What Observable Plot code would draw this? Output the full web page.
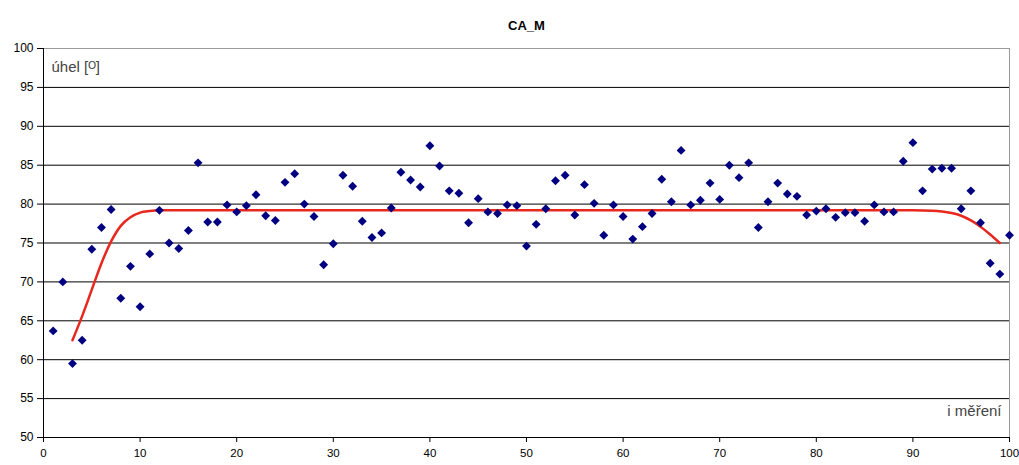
<!DOCTYPE html>
<html>
<head>
<meta charset="utf-8">
<script src="https://cdn.jsdelivr.net/npm/d3@7"></script>
<script src="https://cdn.jsdelivr.net/npm/@observablehq/plot@0.6"></script>
<style>
  body { margin: 0; background: #fff; }
  svg { font-family: "Liberation Sans", Arial, sans-serif; }
</style>
</head>
<body>
<div id="chart"></div>
<script>
const title = "CA_M";
const yLabel = "úhel [ᴼ]";
const xLabel = "i měření";
const xTicks = [0, 10, 20, 30, 40, 50, 60, 70, 80, 90, 100];
const yTicks = [50, 55, 60, 65, 70, 75, 80, 85, 90, 95, 100];

const measIndex = d3.range(1, 101);
const measValues = [
  63.7, 70.0, 59.5, 62.5, 74.2, 77.0, 79.3, 67.9, 72.0, 66.8,
  73.6, 79.2, 75.0, 74.3, 76.6, 85.3, 77.7, 77.7, 79.9, 79.0,
  79.8, 81.2, 78.5, 77.9, 82.8, 83.9, 80.0, 78.4, 72.2, 74.9,
  83.7, 82.3, 77.8, 75.7, 76.3, 79.5, 84.1, 83.1, 82.2, 87.5,
  84.9, 81.7, 81.4, 77.6, 80.7, 79.0, 78.8, 79.9, 79.8, 74.6,
  77.4, 79.4, 83.0, 83.7, 78.6, 82.5, 80.1, 76.0, 79.9, 78.4,
  75.5, 77.1, 78.8, 83.2, 80.3, 86.9, 79.9, 80.5, 82.7, 80.6,
  85.0, 83.4, 85.3, 77.0, 80.3, 82.7, 81.3, 81.0, 78.6, 79.1,
  79.4, 78.3, 78.9, 78.9, 77.8, 79.9, 79.0, 79.0, 85.5, 87.9,
  81.7, 84.5, 84.6, 84.6, 79.4, 81.7, 77.6, 72.4, 71.0, 76.0
];

const fitX = [3, 4, 5, 6, 7, 8, 9, 10, 11, 12, 20, 40, 60, 80, 90, 92, 93, 94, 95, 96, 97, 98, 99];
const fitY = [62.5, 65.6, 69.0, 72.4, 75.2, 77.2, 78.3, 78.9, 79.1, 79.2, 79.2, 79.2, 79.2, 79.2, 79.2, 79.15, 79.05, 78.85, 78.5, 77.9, 77.1, 76.1, 75.0];

const points = measIndex.map((x, i) => ({x, y: measValues[i]}));
const fit = fitX.map((x, i) => ({x, y: fitY[i]}));
const gridY = yTicks.filter(v => v > 50 && v < 100);

const chart = Plot.plot({
  width: 1019,
  height: 465,
  marginLeft: 43,
  marginRight: 10,
  marginTop: 48,
  marginBottom: 28,
  style: {fontFamily: "'Liberation Sans', Arial, sans-serif", fontSize: "12px", color: "#000", background: "#fff", overflow: "visible"},
  x: {domain: [0, 100], ticks: xTicks, label: null, tickSize: 5, tickPadding: 6},
  y: {domain: [50, 100], ticks: yTicks, label: null, tickSize: 6, tickPadding: 4},
  marks: [
    Plot.ruleY(gridY, {stroke: "#000", strokeWidth: 1}),
    Plot.ruleY([100], {stroke: "#999", strokeWidth: 1}),
    Plot.ruleX([100], {stroke: "#999", strokeWidth: 1}),
    Plot.ruleX([0], {stroke: "#000", strokeWidth: 1}),
    Plot.ruleY([50], {stroke: "#000", strokeWidth: 1}),
    Plot.axisX({ticks: xTicks, tickSize: 5, tickPadding: 6, fontSize: 11.5, label: null}),
    Plot.axisY({ticks: yTicks, tickSize: 6, tickPadding: 4, fontSize: 12, label: null}),
    Plot.line(fit, {x: "x", y: "y", stroke: "#e8281e", strokeWidth: 2.5, curve: "monotone-x"}),
    Plot.dot(points, {x: "x", y: "y", symbol: "diamond2", r: 4, fill: "#000080", stroke: "none"}),
    Plot.text([title], {frameAnchor: "top", dy: -28, text: d => d, fontWeight: "bold", fontSize: 13, fill: "#000"}),
    Plot.text([yLabel], {frameAnchor: "top-left", dx: 8, dy: 13, text: d => d, fontSize: 15, fill: "#444", textAnchor: "start"}),
    Plot.text([xLabel], {frameAnchor: "bottom-right", dx: -8, dy: -22, text: d => d, fontSize: 15, fill: "#444", textAnchor: "end"})
  ]
});
document.getElementById("chart").appendChild(chart);
</script>
</body>
</html>
